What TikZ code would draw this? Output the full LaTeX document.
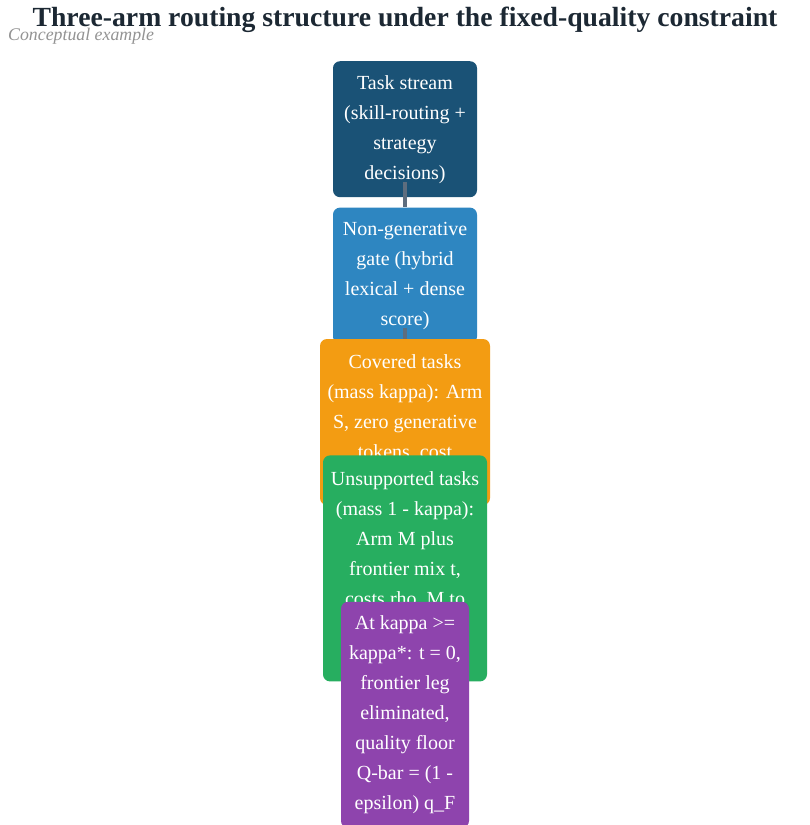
\documentclass[tikz,border=0pt]{standalone}
\usepackage{fontspec}
\setmainfont{Liberation Serif}
\usepackage{tikz}
\usetikzlibrary{positioning,calc,shapes}

\definecolor{taskblue}{HTML}{1A5276}
\definecolor{gateblue}{HTML}{2E86C1}
\definecolor{covorange}{HTML}{F39C12}
\definecolor{unsgreen}{HTML}{27AE60}
\definecolor{floorpurple}{HTML}{8E44AD}
\definecolor{linkgray}{HTML}{5D6D7E}
\definecolor{titleink}{HTML}{1C2833}

\tikzset{stage/.style={rectangle,rounded corners=7pt,text=white,align=center,inner sep=0pt,
  font=\fontsize{20}{30}\selectfont,anchor=north}}

\begin{document}
\begin{tikzpicture}[x=1pt,y=-1pt,node distance=10pt,line join=bevel]
\useasboundingbox [fill=white] (0,0) rectangle (809,825);
\node [anchor=base,text=titleink,font=\fontsize{27.7}{30}\selectfont\bfseries] at (405,26) (title) {Three-arm routing structure under the fixed-quality constraint};
\node [anchor=base west,inner sep=0pt,text=gray!85,font=\fontsize{17.8}{20}\selectfont\itshape] at (8,40) (sub) {Conceptual example};
\node [stage,fill=taskblue,minimum width=144pt,minimum height=136pt] at (405,61) (s0) {Task stream\\(skill-routing +\\strategy\\decisions)};
\node [stage,fill=gateblue,minimum width=144pt,minimum height=136pt,below=10pt of s0] (s1) {Non-generative\\gate (hybrid\\lexical + dense\\score)};
\draw [linkgray,line width=3.5pt] ([yshift=15pt]s0.south) -- (s1.north);
\node [stage,fill=covorange,minimum width=170pt,minimum height=166pt,below=-5pt of s1] (s2) {Covered tasks\\(mass kappa): Arm\\S, zero generative\\tokens, cost\\~};
\draw [linkgray,line width=3.5pt] ([yshift=16pt]s1.south) -- (s2.north);
\node [stage,fill=unsgreen,minimum width=164pt,minimum height=226pt,below=-50pt of s2] (s3) {Unsupported tasks\\(mass 1 - kappa):\\Arm M plus\\frontier mix t,\\costs rho, M to\\~\\~};
\node [stage,fill=floorpurple,minimum width=128pt,minimum height=226pt,below=-80pt of s3] (s4) {At kappa >=\\kappa*: t = 0,\\frontier leg\\eliminated,\\quality floor\\Q-bar = (1 -\\epsilon) q\_F};

\end{tikzpicture}
\end{document}
